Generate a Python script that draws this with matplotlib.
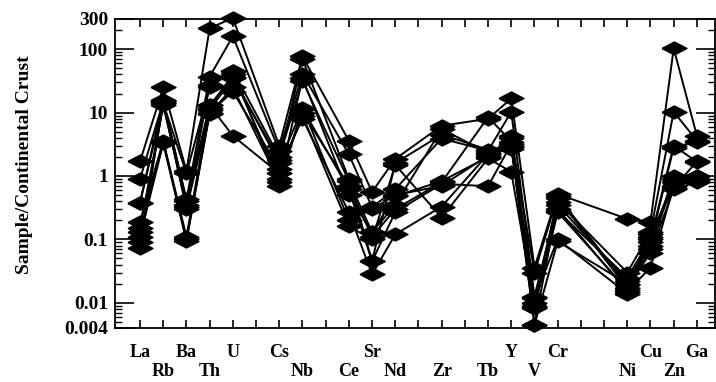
import matplotlib
matplotlib.use("Agg")
import matplotlib.pyplot as plt
from matplotlib.ticker import FixedLocator, LogLocator, NullFormatter

plt.rcParams['font.family'] = ['Liberation Serif', 'DejaVu Serif']
plt.rcParams['font.weight'] = 'bold'

# elements and their slot on the x axis (some slots stay empty)
elements = ['La', 'Rb', 'Ba', 'Th', 'U', 'Cs', 'Nb', 'Ce', 'Sr', 'Nd',
            'Zr', 'Tb', 'Y', 'V', 'Cr', 'Ni', 'Cu', 'Zn', 'Ga']
slots = [0, 1, 2, 3, 4, 6, 7, 9, 10, 11, 13, 15, 16, 17, 18, 21, 22, 23, 24]

# sample / continental crust, one list per sample
s1 = [1.7, 25, 1.2, 215, 310, 3.0, 77, 3.6, 0.56, 1.86, 6.2, 8.0, 16.7, 0.036, 0.52, 0.21, 0.19, 103, 4.3]
s2 = [0.9, 15, 0.43, 37, 160, 2.5, 41, 2.2, 0.32, 0.62, 3.9, 2.5, 10.3, 0.0125, 0.39, 0.03, 0.13, 10.3, 3.6]
s3 = [0.38, 14, 0.32, 27, 46, 2.0, 32, 0.83, 0.13, 0.48, 0.83, 2.0, 4.3, 0.0087, 0.28, 0.025, 0.10, 3.0, 1.67]
s4 = [0.19, 3.6, 0.11, 13, 37, 1.6, 11.6, 0.62, 0.045, 0.27, 0.75, 0.69, 3.2, 0.0045, 0.093, 0.020, 0.08, 1.0, 1.0]
s5 = [0.11, 3.3, 0.093, 10, 21.5, 1.3, 8.0, 0.27, 0.028, 0.12, 0.33, 2.2, 2.7, 0.010, 0.45, 0.017, 0.062, 0.62, 0.8]
s6 = [0.074, 15, 0.40, 13, 4.3, 1.1, 9.0, 0.16, 0.10, 1.5, 0.22, 1.9, 1.16, 0.009, 0.30, 0.015, 0.036, 0.70, 0.85]
s7 = [0.15, 13, 0.35, 12, 40, 0.9, 10, 0.70, 0.11, 0.30, 0.80, 8.5, 3.5, 0.012, 0.10, 0.014, 0.11, 0.80, 0.9]
s8 = [0.13, 3.4, 0.10, 9.6, 25, 0.8, 35, 0.50, 0.13, 0.35, 5.5, 2.3, 3.0, 0.0045, 0.35, 0.022, 0.09, 2.8, 3.5]
s9 = [0.09, 14, 1.1, 25, 45, 0.7, 12, 0.20, 0.30, 0.50, 0.70, 2.1, 4.0, 0.030, 0.48, 0.019, 0.07, 0.9, 1.0]
s10 = [0.38, 16, 0.30, 11, 35, 1.8, 70, 0.90, 0.045, 1.6, 4.5, 2.6, 2.9, 0.0083, 0.27, 0.016, 0.12, 0.65, 1.7]
samples = [s1, s2, s3, s4, s5, s6, s7, s8, s9, s10]

ytick_vals = [0.004, 0.01, 0.1, 1, 10, 100, 300]
ytick_text = ['0.004', '0.01', '0.1', '1', '10', '100', '300']

# flat diamond marker
diamond = [(-1, 0), (0, 0.52), (1, 0), (0, -0.52), (-1, 0)]

fig = plt.figure(figsize=(7.16, 3.82), dpi=100)
ax = fig.add_axes([0.1606, 0.1414, 0.8380, 0.8089])

for s in samples:
    ax.plot(slots, s, color='black', lw=1.4, marker=diamond,
            markersize=18, markerfacecolor='black', markeredgecolor='black',
            clip_on=False)

ax.set_yscale('log')
ax.set_ylim(0.004, 300)
ax.set_xlim(-1.08, 24.78)

ax.yaxis.set_major_locator(FixedLocator(ytick_vals))
ax.set_yticklabels(ytick_text, fontsize=14, fontweight='bold')
ax.yaxis.set_minor_locator(LogLocator(base=10, subs=range(2, 10)))
ax.yaxis.set_minor_formatter(NullFormatter())

ax.set_xticks(range(25))
ax.set_xticklabels([])

ax.tick_params(axis='y', which='major', direction='in', length=14, width=1.2,
               left=True, right=True, pad=5)
ax.tick_params(axis='y', which='minor', direction='in', length=5, width=1.0,
               left=True, right=True)
ax.tick_params(axis='x', which='major', direction='in', length=6, width=1.2,
               top=True, bottom=True)
for sp in ax.spines.values():
    sp.set_linewidth(1.3)

# staggered element names under the axis
tr = ax.get_xaxis_transform()
for name, x in zip(elements, slots):
    yy = -0.078 if x % 2 == 0 else -0.142
    ax.text(x, yy, name, transform=tr, ha='center', va='center',
            fontsize=13, fontweight='bold')

ax.set_ylabel('Sample/Continental Crust', fontsize=14, fontweight='bold')
ax.yaxis.set_label_coords(-0.137, 0.527)

fig.savefig('out.png', dpi=100)
